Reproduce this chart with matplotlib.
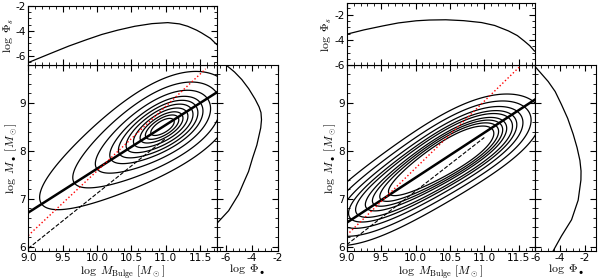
import numpy as np
import matplotlib
matplotlib.use('Agg')
import matplotlib.pyplot as plt
from matplotlib.ticker import MultipleLocator, AutoMinorLocator

plt.rcParams['mathtext.fontset'] = 'cm'
plt.rcParams['axes.unicode_minus'] = False
plt.rcParams['font.size'] = 7.5

# bulge mass function (log M_bulge, log Phi_s)
left_top_x = [9.0, 9.3, 9.59, 9.85, 10.07, 10.3, 10.55, 10.8, 11.03, 11.2, 11.32, 11.45, 11.52, 11.65, 11.74]
left_top_y = [-6.52, -5.85, -5.21, -4.7, -4.29, -3.95, -3.64, -3.43, -3.35, -3.45, -3.64, -3.95, -4.16, -4.6, -5.08]
right_top_x = [9.0, 9.25, 9.53, 9.75, 10.01, 10.2, 10.44, 10.7, 10.96, 11.15, 11.35, 11.48, 11.58, 11.66, 11.73]
right_top_y = [-3.54, -3.2, -2.88, -2.65, -2.48, -2.42, -2.4, -2.47, -2.62, -2.85, -3.28, -3.65, -4.08, -4.45, -4.88]

# black hole mass function (log Phi_bh, log M_bh)
left_side_phi = [-5.93, -5.35, -4.78, -4.25, -3.75, -3.45, -3.3, -3.26, -3.32, -3.62, -3.95, -4.26, -4.65, -5.03, -5.8, -6.62]
left_side_m = [9.78, 9.65, 9.49, 9.3, 9.08, 8.92, 8.8, 8.65, 8.48, 8.12, 7.85, 7.57, 7.33, 7.09, 6.75, 6.51]
right_side_phi = [-6.0, -4.96, -4.4, -3.9, -3.4, -2.96, -2.65, -2.42, -2.33, -2.34, -2.56, -3.09, -3.9, -4.56]
right_side_m = [9.76, 9.45, 9.24, 8.97, 8.68, 8.35, 8.07, 7.80, 7.58, 7.39, 6.97, 6.56, 6.22, 5.91]

# relations: [log M_bh at log M_bulge = 9, slope]
left_fit = [6.71, 0.916]
left_inverse = [6.23, 1.35]
left_dashed = [5.96, 1.15]
right_fit = [6.5, 0.94]
right_inverse = [6.24, 1.40]
right_dashed = [6.04, 1.12]

# scatter about the relation [dex in log M_bh, tilt of the scatter]
left_scatter = [0.3, 0.35]
right_scatter = [0.3, 0.5]
# contour levels as fractions of the peak density
left_levels = [0.002, 0.02, 0.08, 0.18, 0.28, 0.4, 0.54, 0.68, 0.79, 0.89]
right_levels = [0.005, 0.02, 0.05, 0.09, 0.13, 0.2, 0.26, 0.33, 0.42]


def style(ax):
    ax.tick_params(which='both', direction='in', top=True, right=True, pad=1.5, labelsize=7.5)
    ax.tick_params(which='major', length=4)
    ax.tick_params(which='minor', length=2)
    ax.xaxis.set_minor_locator(AutoMinorLocator())
    ax.yaxis.set_minor_locator(AutoMinorLocator())


def draw(x0, top_lim, top_x, top_y, side_phi, side_m, fit, inverse, dashed, scatter, levels, top_h):
    main = fig.add_axes([x0, 0.104, 0.314, 0.663])
    top = fig.add_axes([x0, 0.767, 0.314, top_h])
    side = fig.add_axes([x0 + 0.314, 0.104, 0.102, 0.663])
    xlim = (9.0, 11.74)
    ylim = (5.91, 9.79)

    # joint distribution: mass function times a tilted gaussian scatter about the relation
    gx = np.linspace(9.0, 11.8, 300)
    gy = np.linspace(5.8, 9.9, 300)
    X, Y = np.meshgrid(gx, gy)
    coef = np.polyfit(top_x, top_y, 4)
    D = Y - (fit[0] + fit[1] * (X - 9.0))
    src = np.clip(X + scatter[1] * D, 8.6, 12.0)
    Z = 10 ** np.polyval(coef, src) * np.exp(-D ** 2 / (2 * scatter[0] ** 2))
    main.contour(X, Y, Z, levels=np.array(levels) * Z.max(), colors='k', linewidths=0.9)

    lx = np.linspace(9.0, 11.74, 50)
    main.plot(lx, fit[0] + fit[1] * (lx - 9.0), color='k', lw=1.8)
    ix = np.linspace(9.0, 11.58, 50)
    main.plot(ix, inverse[0] + inverse[1] * (ix - 9.0), color='red', ls=':', lw=1.0)
    dx = np.linspace(9.0, 11.0, 30)
    main.plot(dx, dashed[0] + dashed[1] * (dx - 9.0), color='k', ls='--', lw=0.8)
    main.set_xlim(xlim)
    main.set_ylim(ylim)
    main.xaxis.set_major_locator(MultipleLocator(0.5))
    main.yaxis.set_major_locator(MultipleLocator(1))
    main.set_xlabel(r'$\log\ M_{\rm Bulge}\ [M_\odot]$', fontsize=8.5, labelpad=0)
    main.set_ylabel(r'$\log\ M_\bullet\ [M_\odot]$', fontsize=8.5, labelpad=0)
    style(main)

    top.plot(top_x, top_y, color='k', lw=0.9)
    top.set_xlim(xlim)
    top.set_ylim(top_lim)
    top.yaxis.set_major_locator(MultipleLocator(2))
    top.xaxis.set_major_locator(MultipleLocator(0.5))
    top.set_xticklabels([])
    top.set_ylabel(r'$\log\ \Phi_s$', fontsize=8.5, labelpad=0)
    style(top)

    side.plot(side_phi, side_m, color='k', lw=0.9)
    side.set_ylim(ylim)
    side.set_xlim(top_lim)
    side.xaxis.set_major_locator(MultipleLocator(2))
    side.yaxis.set_major_locator(MultipleLocator(1))
    side.set_yticklabels([])
    side.set_xlabel(r'$\log\ \Phi_\bullet$', fontsize=8.5, labelpad=0)
    style(side)


fig = plt.figure(figsize=(6, 2.8), dpi=100)
draw(0.047, (-6.73, -2.0), left_top_x, left_top_y, left_side_phi, left_side_m,
     left_fit, left_inverse, left_dashed, left_scatter, left_levels, 0.213)
draw(0.578, (-6.0, -1.1), right_top_x, right_top_y, right_side_phi, right_side_m,
     right_fit, right_inverse, right_dashed, right_scatter, right_levels, 0.221)
fig.savefig('out.png', dpi=100)
